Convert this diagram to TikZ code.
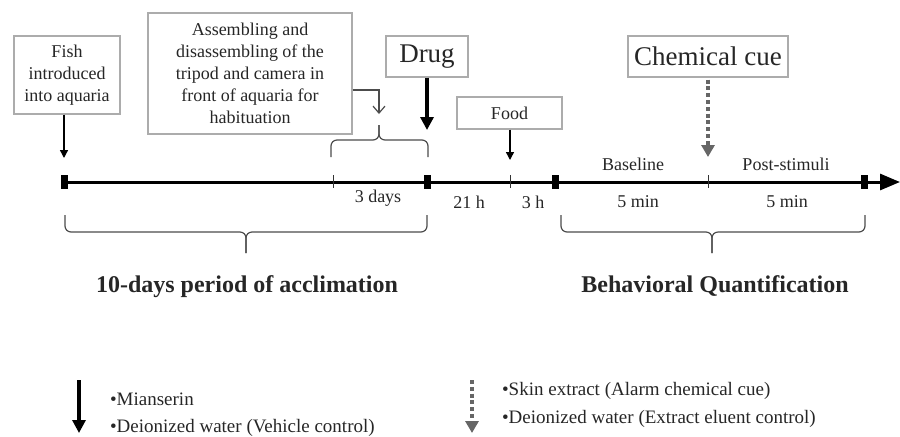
\documentclass[tikz,border=0pt]{standalone}
\usepackage{fontspec}
\setmainfont{Liberation Serif}
\usepackage{tikz}
\usetikzlibrary{arrows.meta, positioning}

\begin{document}
\begin{tikzpicture}[x=0.5pt, y=-0.5pt,
  box/.style={draw=gray!65, line width=0.6pt, align=center, inner sep=0pt, text=black!85},
  small/.style={font=\fontsize{9}{11}\selectfont, text=black!85},
  big/.style={font=\fontsize{13.5}{15}\selectfont, text=black!85},
  bold/.style={font=\fontsize{12}{14}\selectfont\bfseries, text=black!85, anchor=base},
  legend/.style={font=\fontsize{9.5}{11}\selectfont, text=black!85, anchor=base west},
  stopbox/.style={fill=black, minimum width=3.5pt, minimum height=7pt, inner sep=0pt},
  tick/.style={line width=0.5pt, black!80},
  arr/.style={-{Triangle[length=4pt, width=4pt]}, line width=0.7pt},
  openarr/.style={-{Straight Barb[length=3.5pt, width=6pt]}, line width=0.6pt, black!70},
  bigarr/.style={-{Triangle[length=6.5pt, width=6.5pt]}, line width=1.6pt},
  cuearr/.style={-{Triangle[length=6pt, width=6.5pt]}, line width=2pt, black!60, dash pattern=on 2pt off 1.4pt},
  brc/.style={draw=black!70, line width=0.6pt, rounded corners=3pt}
]
\useasboundingbox (0,0) rectangle (900,436);

% boxes above the time line
\node[box, small, minimum width=53pt, minimum height=39pt] (fish) at (67,75) {Fish\\introduced\\into aquaria};
\node[box, small, minimum width=102pt, minimum height=60.5pt] (assembly) at (250,73.5) {Assembling and\\disassembling of the\\tripod and camera in\\front of aquaria for\\habituation};
\node[box, big, minimum width=41pt, minimum height=20.5pt] (drug) at (427,56.5) {Drug};
\node[box, small, minimum width=52.5pt, minimum height=16pt] (food) at (509.5,113) {Food};
\node[box, big, minimum width=80pt, minimum height=20.5pt] (cue) at (708,56.5) {Chemical cue};

% time line
\coordinate (tlend) at (900,182);
\draw[line width=1.5pt, -{Triangle[length=10pt, width=8pt]}] (62,182) -- (tlend);
\node[stopbox] (s1) at (64,182) {};
\node[stopbox] (s2) at (427,182) {};
\node[stopbox] (s3) at (555,182) {};
\node[stopbox] (s4) at (864,182) {};
\draw[tick] (333,175) -- (333,188);
\draw[tick] (510,175) -- (510,188);
\draw[tick] (708,175) -- (708,188);

% arrows onto the time line
\coordinate (fishtip) at (64,158);
\coordinate (asmtip) at (379,114);
\coordinate (drugtip) at (427,130);
\coordinate (foodtip) at (510,160);
\coordinate (cuetip) at (708,157);
\draw[arr] (fish.south -| fishtip) -- (fishtip);
\draw[openarr] ([yshift=-8.25pt]assembly.east) -| (asmtip);
\draw[bigarr] (drug.south) -- (drugtip);
\draw[arr] (food.south -| foodtip) -- (foodtip);
\draw[cuearr] ([yshift=-1pt]cue.south) -- (cuetip);

% interval labels
\node[small] (base) at (633,164) {Baseline};
\node[small] (post) at (786,164) {Post-stimuli};
\node[small] (days) at (378,198) {3 days};
\node[small] (h21) at (469,202) {21 h};
\node[small] (h3) at (533,202) {3 h};
\node[small] (min1) at (638,202) {5 min};
\node[small] (min2) at (787,202) {5 min};

% braces
\draw[brc] (331,157) -- (331,140) -- (379,140) -- (379,125);
\draw[brc] (428,157) -- (428,140) -- (379,140) -- (379,125);
\draw[brc] (65,215) -- (65,232) -- (246,232) -- (246,253);
\draw[brc] (427,215) -- (427,232) -- (246,232) -- (246,253);
\draw[brc] (561,215) -- (561,232) -- (712,232) -- (712,253);
\draw[brc] (865,215) -- (865,232) -- (712,232) -- (712,253);
\node[bold] (accl) at (247,292) {10-days period of acclimation};
\node[bold] (behav) at (715,292) {Behavioral Quantification};

% legend
\coordinate (legA1) at (79,380);
\coordinate (legA2) at (79,433);
\coordinate (legB1) at (472,380);
\coordinate (legB2) at (472,433);
\draw[bigarr] (legA1) -- (legA2);
\draw[cuearr] (legB1) -- (legB2);
\node[legend] (mian) at (103,405) {\textbullet Mianserin};
\node[legend] (veh) at (103,432) {\textbullet Deionized water (Vehicle control)};
\node[legend] (skin) at (495,395) {\textbullet Skin extract (Alarm chemical cue)};
\node[legend] (elu) at (495,423) {\textbullet Deionized water (Extract eluent control)};
\end{tikzpicture}
\end{document}
